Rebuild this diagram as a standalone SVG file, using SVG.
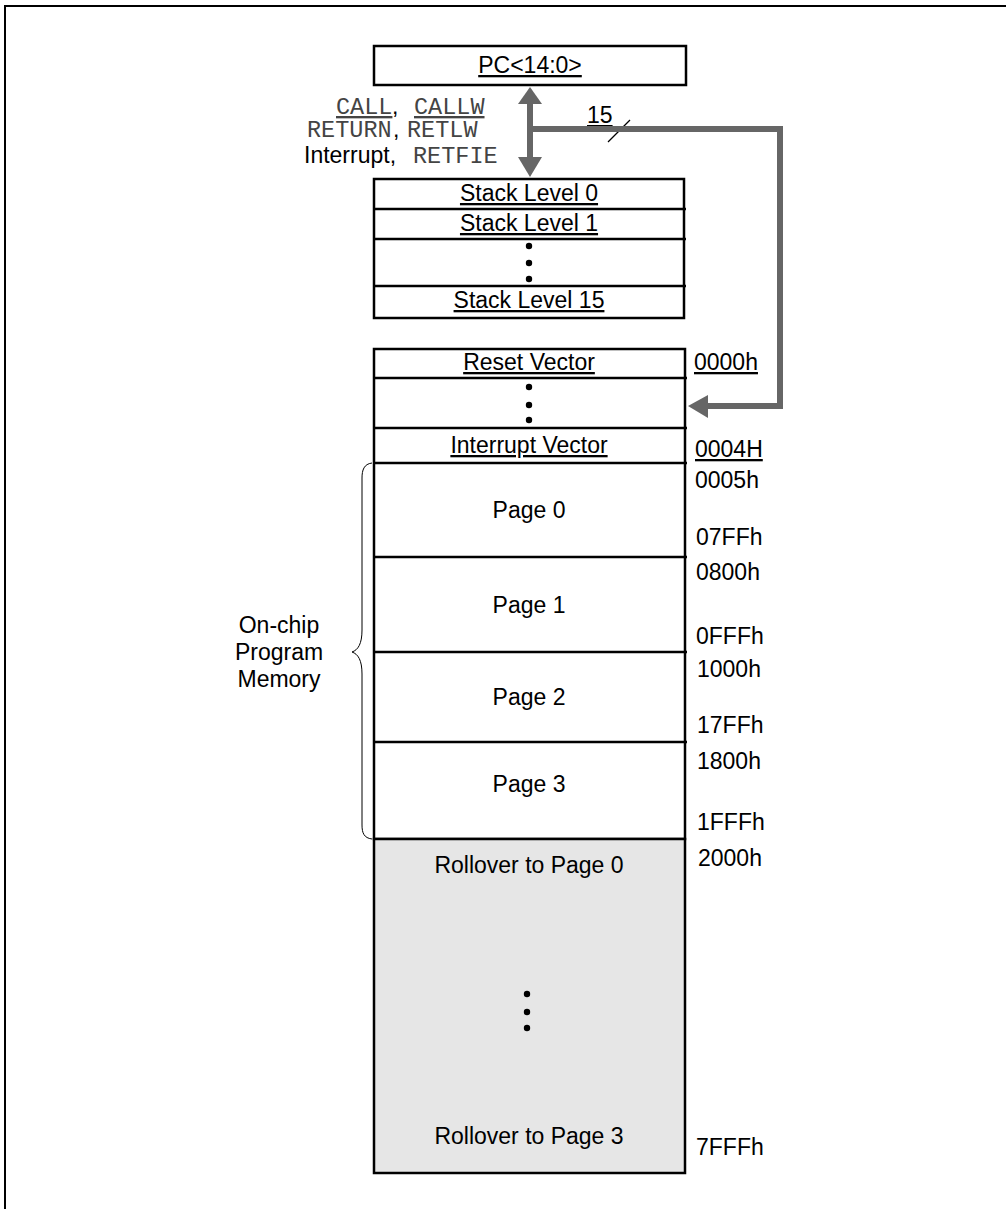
<svg xmlns="http://www.w3.org/2000/svg" width="1006" height="1209" viewBox="0 0 1006 1209">
<style>
.t{font-family:"Liberation Sans",Arial,sans-serif;font-size:23px;fill:#000}
.m{font-family:"Liberation Mono","Courier New",monospace;font-size:23.5px;fill:#444}
.c{text-anchor:middle}
.u{text-decoration:underline}
.box{fill:#fff;stroke:#000;stroke-width:2.5}
.ln{stroke:#000;stroke-width:2.5}
.bus{fill:none;stroke:#666;stroke-width:6}
.ah{fill:#666}
</style>
<rect width="1006" height="1209" fill="#fff"/>
<path d="M5,1209 V6 H1010" fill="none" stroke="#000" stroke-width="2"/>

<g id="pc">
<rect class="box" x="374" y="46" width="312" height="39"/>
<text class="t c u" x="530" y="73">PC&lt;14:0&gt;</text>
</g>

<g id="labels">
<text class="m u" x="336" y="114">CALL</text>
<text class="t" x="392" y="114">,</text>
<text class="m u" x="414" y="114">CALLW</text>
<text class="m" x="307" y="137">RETURN</text>
<text class="t" x="393" y="137">,</text>
<text class="m" x="407" y="137">RETLW</text>
<text class="t" x="304" y="163">Interrupt,</text>
<text class="m" x="413" y="163">RETFIE</text>
<text class="t u" x="587" y="123">15</text>
<line x1="608" y1="142" x2="630" y2="120" stroke="#000" stroke-width="1.2"/>
</g>

<g id="stack">
<rect class="box" x="374" y="179" width="310" height="139"/>
<line class="ln" x1="374" y1="209" x2="686" y2="209"/>
<line class="ln" x1="374" y1="239" x2="686" y2="239"/>
<line class="ln" x1="374" y1="286" x2="686" y2="286"/>
<text class="t c u" x="529" y="201">Stack Level 0</text>
<text class="t c u" x="529" y="231">Stack Level 1</text>
<circle cx="529" cy="246" r="3.2"/>
<circle cx="529" cy="263" r="3.2"/>
<circle cx="529" cy="279" r="3.2"/>
<text class="t c u" x="529" y="308">Stack Level 15</text>
</g>

<g id="memory">
<rect class="box" x="374" y="349" width="311" height="490"/>
<rect x="374" y="839" width="311" height="334" fill="#e6e6e6" stroke="#000" stroke-width="2.5"/>
<line class="ln" x1="374" y1="378" x2="687" y2="378"/>
<line class="ln" x1="374" y1="428" x2="687" y2="428"/>
<line class="ln" x1="374" y1="463" x2="687" y2="463"/>
<line class="ln" x1="374" y1="557" x2="687" y2="557"/>
<line class="ln" x1="374" y1="652" x2="687" y2="652"/>
<line class="ln" x1="374" y1="742" x2="687" y2="742"/>
<text class="t c u" x="529" y="370">Reset Vector</text>
<circle cx="529" cy="387" r="3.2"/>
<circle cx="529" cy="405" r="3.2"/>
<circle cx="529" cy="420" r="3.2"/>
<text class="t c u" x="529" y="453">Interrupt Vector</text>
<text class="t c" x="529" y="518">Page 0</text>
<text class="t c" x="529" y="613">Page 1</text>
<text class="t c" x="529" y="705">Page 2</text>
<text class="t c" x="529" y="792">Page 3</text>
<text class="t c" x="529" y="873">Rollover to Page 0</text>
<circle cx="527" cy="994" r="3.2"/>
<circle cx="527" cy="1012" r="3.2"/>
<circle cx="527" cy="1028" r="3.2"/>
<text class="t c" x="529" y="1144">Rollover to Page 3</text>
</g>

<g id="addresses">
<text class="t u" x="694" y="370">0000h</text>
<text class="t u" x="695" y="457">0004H</text>
<text class="t" x="695" y="488">0005h</text>
<text class="t" x="696" y="545">07FFh</text>
<text class="t" x="696" y="580">0800h</text>
<text class="t" x="696" y="644">0FFFh</text>
<text class="t" x="697" y="677">1000h</text>
<text class="t" x="697" y="733">17FFh</text>
<text class="t" x="697" y="769">1800h</text>
<text class="t" x="697" y="830">1FFFh</text>
<text class="t" x="698" y="866">2000h</text>
<text class="t" x="696" y="1155">7FFFh</text>
</g>

<g id="onchip">
<path d="M372,463 C364,464 362,470 362,478 V630 C362,644 358,650 352,652 C358,654 362,660 362,674 V825 C362,833 364,838 372,839" fill="none" stroke="#000" stroke-width="1"/>
<text class="t c" x="279" y="633">On-chip</text>
<text class="t c" x="279" y="660">Program</text>
<text class="t c" x="279" y="687">Memory</text>
</g>

<g id="connectors">
<line class="bus" x1="530" y1="101" x2="530" y2="160"/>
<polygon class="ah" points="530,87 542,104 518,104"/>
<polygon class="ah" points="530,177 542,157 518,157"/>
<path class="bus" d="M530,129 H780 V406 H706"/>
<polygon class="ah" points="688,406 708,395 708,418"/>
</g>
</svg>
